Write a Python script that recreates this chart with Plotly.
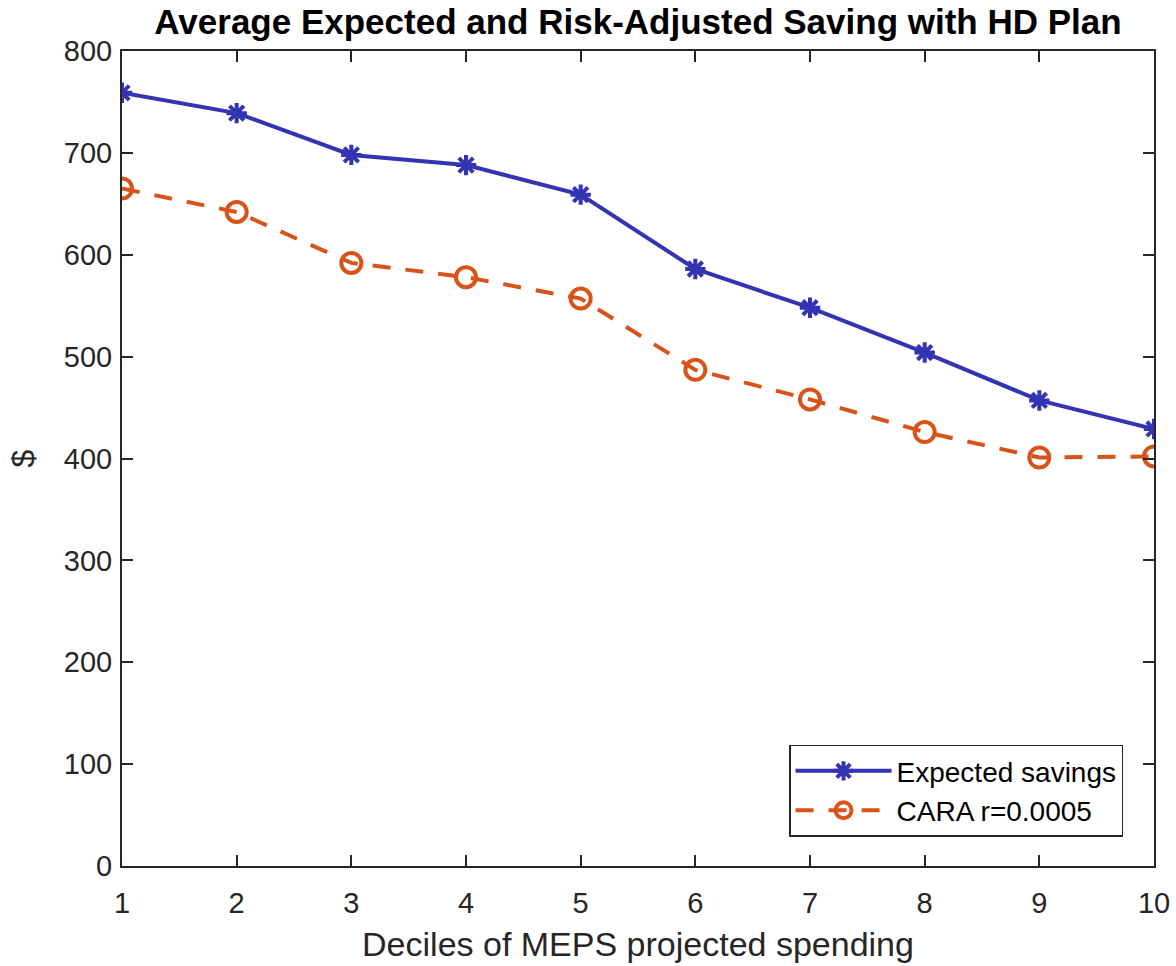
import plotly.graph_objects as go

# Deciles of projected spending
deciles = [1, 2, 3, 4, 5, 6, 7, 8, 9, 10]

# Average savings ($) per decile
expected_savings = [759, 739, 698, 688, 659, 586, 548, 504, 457, 429]
cara_savings = [665, 642, 592, 578, 557, 487, 458, 426, 401, 402]

x_ticks = [1, 2, 3, 4, 5, 6, 7, 8, 9, 10]
y_ticks = [0, 100, 200, 300, 400, 500, 600, 700, 800]

BLUE = "#3333B3"
ORANGE = "#D95319"
AXIS = "#262626"
FONT = "Liberation Sans, Arial, sans-serif"

fig = go.Figure()

fig.add_trace(go.Scatter(
    x=deciles, y=expected_savings, mode="lines+markers",
    name="Expected savings",
    line=dict(color=BLUE, width=4),
    marker=dict(symbol="asterisk-open", size=17, color=BLUE,
                line=dict(color=BLUE, width=4)),
))

fig.add_trace(go.Scatter(
    x=deciles, y=cara_savings, mode="lines+markers",
    name="CARA r=0.0005",
    line=dict(color=ORANGE, width=4, dash="18px,15px"),
    marker=dict(symbol="circle-open", size=20, color=ORANGE,
                line=dict(color=ORANGE, width=4)),
))

axis_common = dict(
    showline=True, linecolor=AXIS, linewidth=2, mirror="ticks",
    ticks="inside", ticklen=11, tickwidth=2, tickcolor=AXIS,
    showgrid=False, zeroline=False, automargin=False,
    tickfont=dict(family=FONT, size=29, color=AXIS),
)

fig.update_xaxes(
    range=[1, 10], tickvals=x_ticks, ticklabelstandoff=10,
    title=dict(text="Deciles of MEPS projected spending",
               font=dict(family=FONT, size=34, color=AXIS), standoff=14),
    **axis_common,
)
fig.update_yaxes(
    range=[0, 800], tickvals=y_ticks, ticklabelstandoff=2,
    title=dict(text="$", font=dict(family=FONT, size=32, color=AXIS), standoff=20),
    **axis_common,
)

fig.update_layout(
    width=1176, height=966,
    margin=dict(l=122, r=22, t=51, b=100),
    paper_bgcolor="white", plot_bgcolor="white",
    title=dict(text="<b>Average Expected and Risk-Adjusted Saving with HD Plan</b>",
               x=0.5, xref="paper", xanchor="center",
               y=1 - 22 / 966, yanchor="middle",
               font=dict(family=FONT, size=35, color="black")),
    legend=dict(
        x=0.970, y=0.036, xanchor="right", yanchor="bottom",
        bgcolor="white", bordercolor=AXIS, borderwidth=1.5,
        font=dict(family=FONT, size=28, color="black"),
        itemwidth=96,
    ),
    showlegend=True,
)

fig.write_html("out.html")
